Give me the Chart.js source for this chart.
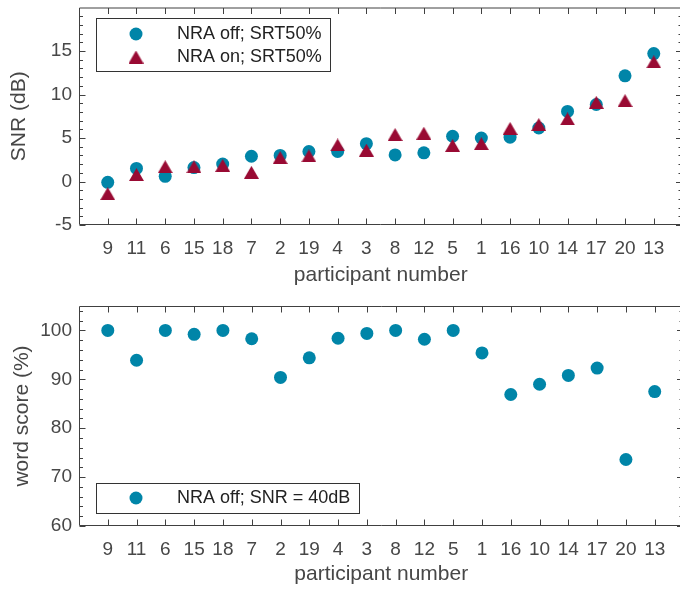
<!DOCTYPE html>
<html>
<head>
<meta charset="utf-8">
<script src="https://cdn.jsdelivr.net/npm/chart.js@4.4.1/dist/chart.umd.min.js"></script>
<style>
  html, body { margin: 0; padding: 0; background: #fff; width: 680px; height: 590px; overflow: hidden; }
  #wrap { position: relative; width: 690px; height: 590px; }
  canvas { position: absolute; left: 0; }
  #snrChart { top: 0; width: 690px; height: 290px; }
  #wordChart { top: 290px; width: 690px; height: 300px; }
</style>
</head>
<body>
<div id="wrap">
  <canvas id="snrChart" width="690" height="290"></canvas>
  <canvas id="wordChart" width="690" height="300"></canvas>
</div>
<script>
// participant order along the x axis
const participants = [9, 11, 6, 15, 18, 7, 2, 19, 4, 3, 8, 12, 5, 1, 16, 10, 14, 17, 20, 13];

// SRT50% in dB
const snrNraOff = [-0.1, 1.5, 0.6, 1.6, 2.0, 2.9, 3.0, 3.45, 3.45, 4.35, 3.05, 3.3, 5.2, 5.0, 5.1, 6.15, 8.05, 8.85, 12.15, 14.7];
const snrNraOn  = [-1.4, 0.8, 1.7, 1.7, 1.85, 1.05, 2.75, 2.95, 4.2, 3.6, 5.4, 5.55, 4.15, 4.35, 6.1, 6.55, 7.2, 9.1, 9.3, 13.75];

// word score (%) at SNR = 40 dB
const wordScore = [100, 93.9, 100, 99.2, 100, 98.3, 90.4, 94.4, 98.4, 99.4, 100, 98.2, 100, 95.4, 86.9, 89.0, 90.8, 92.3, 73.6, 87.5];

const snrTicks = [-5, 0, 5, 10, 15];
const wordTicks = [60, 70, 80, 90, 100];

const TEAL = '#0085a8';
const WINE = '#990a33';
const AXIS = '#404040';

Chart.defaults.font.family = '"Liberation Sans", Arial, Helvetica, sans-serif';
Chart.defaults.color = '#474747';

// triangle marker centred on its bounding box (like MATLAB '^')
function makeTriangle(color) {
    const c = document.createElement('canvas');
    c.width = 15; c.height = 13;
    const g = c.getContext('2d');
    g.fillStyle = color;
    g.beginPath();
    g.moveTo(7.5, 0); g.lineTo(15, 13); g.lineTo(0, 13);
    g.closePath();
    g.fill();
    return c;
}
const triangle = makeTriangle(WINE);

const toPoints = vals => vals.map((v, i) => ({ x: i + 1, y: v }));
const xPositions = participants.map((p, i) => i + 1);

// ===============================================
// PLUGINS: box with inward ticks, MATLAB-like legend
// ===============================================

const axisBox = {
    id: 'axisBox',
    afterDraw(chart, args, o) {
        const { ctx, chartArea: a, scales: { x, y } } = chart;
        ctx.save();
        ctx.strokeStyle = AXIS;
        ctx.lineWidth = 1;
        ctx.beginPath();
        const L = a.left + 0.5, R = a.right - 0.5, T = a.top + 0.5, B = a.bottom - 0.5;
        ctx.rect(L, T, R - L, B - T);
        xPositions.forEach(v => {
            const px = Math.round(x.getPixelForValue(v)) + 0.5;
            ctx.moveTo(px, B); ctx.lineTo(px, B - 6);
            ctx.moveTo(px, T); ctx.lineTo(px, T + 6);
        });
        o.major.forEach(v => {
            const py = Math.round(y.getPixelForValue(v)) + 0.5;
            ctx.moveTo(L, py); ctx.lineTo(L + 6, py);
            ctx.moveTo(R, py); ctx.lineTo(R - 6, py);
        });
        o.minor.forEach(v => {
            const py = Math.round(y.getPixelForValue(v)) + 0.5;
            ctx.moveTo(L, py); ctx.lineTo(L + 3.5, py);
            ctx.moveTo(R, py); ctx.lineTo(R - 3.5, py);
        });
        ctx.stroke();
        ctx.restore();
    }
};

const legendBox = {
    id: 'legendBox',
    afterDraw(chart, args, o) {
        const { ctx } = chart;
        ctx.save();
        ctx.fillStyle = '#fff';
        ctx.fillRect(o.x, o.y, o.w, o.h);
        ctx.strokeStyle = '#333';
        ctx.lineWidth = 1;
        ctx.strokeRect(o.x + 0.5, o.y + 0.5, o.w, o.h);
        chart.data.datasets.forEach((ds, i) => {
            const cy = o.y + o.first + i * o.gap;
            if (ds.pointStyle === 'circle') {
                ctx.fillStyle = ds.pointBackgroundColor;
                ctx.beginPath();
                ctx.arc(o.markerX, cy, ds.pointRadius, 0, Math.PI * 2);
                ctx.fill();
            } else {
                ctx.drawImage(ds.pointStyle, o.markerX - ds.pointStyle.width / 2, cy - ds.pointStyle.height / 2);
            }
            ctx.fillStyle = '#222';
            ctx.font = '18px "Liberation Sans", Arial, sans-serif';
            ctx.textBaseline = 'middle';
            ctx.textAlign = 'left';
            ctx.fillText(ds.label, o.textX, cy);
        });
        ctx.restore();
    }
};

function range(from, to, step, skipEvery) {
    const out = [];
    for (let v = from; v <= to + 1e-9; v += step) {
        if (Math.abs(v % skipEvery) > 1e-9) out.push(v);
    }
    return out;
}

function xScale(titleBottom, height) {
    return {
        type: 'linear', min: 0, max: 21,
        grid: { display: false, drawTicks: false },
        border: { display: false },
        afterBuildTicks: s => { s.ticks = xPositions.map(v => ({ value: v })); },
        ticks: {
            autoSkip: false, maxRotation: 0, padding: 12,
            font: { size: 19 },
            callback: v => String(participants[v - 1])
        },
        title: { display: true, text: 'participant number', font: { size: 21 }, padding: { top: 0, bottom: titleBottom } },
        afterFit: s => { s.height = height; s.paddingLeft = 0; s.paddingRight = 0; }
    };
}

function yScale(min, max, ticks, title, titleTop) {
    return {
        min: min, max: max,
        grid: { display: false, drawTicks: false },
        border: { display: false },
        afterBuildTicks: s => { s.ticks = ticks.map(v => ({ value: v })); },
        ticks: { padding: 7, font: { size: 19 } },
        title: { display: true, text: title, font: { size: 21 }, padding: { top: titleTop, bottom: 0 } },
        afterFit: s => { s.width = 79; s.paddingTop = 0; s.paddingBottom = 0; }
    };
}

const common = {
    responsive: false,
    animation: false,
    events: [],
    plugins: { legend: { display: false }, tooltip: { enabled: false } }
};

// ===============================================
// TOP: SNR
// ===============================================
new Chart(document.getElementById('snrChart'), {
    type: 'scatter',
    data: {
        datasets: [
            {
                label: 'NRA off; SRT50%',
                data: toPoints(snrNraOff),
                pointStyle: 'circle',
                pointRadius: 6.5,
                pointBackgroundColor: TEAL,
                pointBorderWidth: 0,
                order: 1
            },
            {
                label: 'NRA on; SRT50%',
                data: toPoints(snrNraOn),
                pointStyle: triangle,
                pointRadius: 7.5,
                pointBackgroundColor: WINE,
                pointBorderWidth: 0,
                order: 0
            }
        ]
    },
    options: {
        ...common,
        layout: { padding: { top: 5, right: 6, bottom: 0, left: 0 } },
        scales: {
            x: xScale(2, 65),
            y: yScale(-5, 20, snrTicks, 'SNR (dB)', 7)
        },
        plugins: {
            ...common.plugins,
            axisBox: { major: snrTicks, minor: range(-4, 19, 1, 5) },
            legendBox: { x: 96, y: 18, w: 234, h: 53, first: 16, gap: 23, markerX: 136, textX: 177 }
        }
    },
    plugins: [axisBox, legendBox]
});

// ===============================================
// BOTTOM: word score
// ===============================================
new Chart(document.getElementById('wordChart'), {
    type: 'scatter',
    data: {
        datasets: [
            {
                label: 'NRA off; SNR = 40dB',
                data: toPoints(wordScore),
                pointStyle: 'circle',
                pointRadius: 6.5,
                pointBackgroundColor: TEAL,
                pointBorderWidth: 0
            }
        ]
    },
    options: {
        ...common,
        layout: { padding: { top: 16, right: 6, bottom: 0, left: 0 } },
        scales: {
            x: xScale(3, 64),
            y: yScale(60, 105, wordTicks, 'word score (%)', 10)
        },
        plugins: {
            ...common.plugins,
            axisBox: { major: wordTicks, minor: range(62, 104, 2, 10) },
            legendBox: { x: 96, y: 193, w: 263, h: 30, first: 15, gap: 0, markerX: 136, textX: 177 }
        }
    },
    plugins: [axisBox, legendBox]
});
</script>
</body>
</html>
